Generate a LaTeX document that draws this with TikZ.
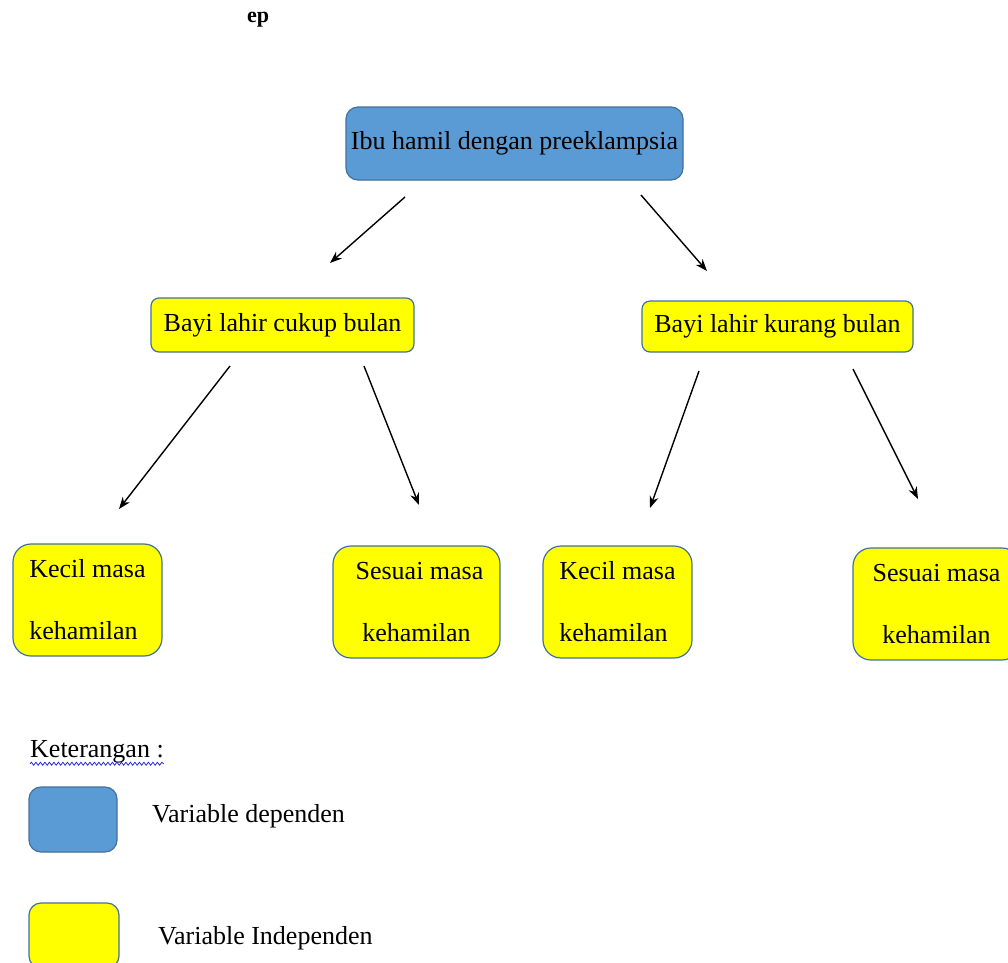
\documentclass[tikz,border=0pt]{standalone}
\usepackage{fontspec}
\setmainfont{Liberation Serif}
\usetikzlibrary{arrows.meta,decorations.pathmorphing}
\definecolor{bluefill}{RGB}{91,155,213}
\definecolor{boxedge}{RGB}{65,113,156}
\definecolor{yel}{RGB}{255,255,0}
\definecolor{spell}{RGB}{40,40,230}
\begin{document}
\begin{tikzpicture}[x=1pt,y=-1pt,
  font=\fontsize{26}{30}\selectfont,
  depbox/.style={draw=boxedge, fill=bluefill, line width=1.2pt, rounded corners=12pt, inner sep=0pt},
  indbox/.style={draw=boxedge, fill=yel, line width=1.2pt, rounded corners=8pt, inner sep=0pt},
  bigbox/.style={indbox, rounded corners=18pt, minimum height=112pt},
  lbl/.style={anchor=west, inner sep=0pt},
  arr/.style={-{Stealth[length=12pt,width=9pt]}, line width=1.4pt}]
\useasboundingbox (0,0) rectangle (1008,962);

\node[lbl, font=\bfseries\fontsize{22}{26}\selectfont] (ep) at (247,20) {ep};

\node[depbox, minimum width=337pt, minimum height=73pt] (top) at (514.5,143.5) {Ibu hamil dengan preeklampsia};

\node[indbox, minimum width=263pt, minimum height=54pt] (cukup) at (282.5,325) {Bayi lahir cukup bulan};
\node[indbox, minimum width=271pt, minimum height=51pt] (kurang) at (777.5,326.5) {Bayi lahir kurang bulan};

\node[bigbox, minimum width=149pt, align=left] (k1) at (87.5,600) {Kecil masa\\[32pt]kehamilan};
\node[bigbox, minimum width=167pt, align=center] (s1) at (416.5,602) {\hspace{6pt}Sesuai masa\\[32pt]kehamilan};
\node[bigbox, minimum width=149pt, align=left] (k2) at (617.5,602) {Kecil masa\\[32pt]kehamilan};
\node[bigbox, minimum width=167pt, align=center] (s2) at (936.5,604) {Sesuai masa\\[32pt]kehamilan};

\coordinate (a1s) at (405,197); \coordinate (a1e) at (330,263);
\coordinate (a2s) at (641,195); \coordinate (a2e) at (707,271);
\coordinate (a3s) at (230,366); \coordinate (a3e) at (119,509);
\coordinate (a4s) at (364,366); \coordinate (a4e) at (419,505);
\coordinate (a5s) at (699,371); \coordinate (a5e) at (650,508);
\coordinate (a6s) at (853,369); \coordinate (a6e) at (918,499);
\draw[arr] (a1s) -- (a1e);
\draw[arr] (a2s) -- (a2e);
\draw[arr] (a3s) -- (a3e);
\draw[arr] (a4s) -- (a4e);
\draw[arr] (a5s) -- (a5e);
\draw[arr] (a6s) -- (a6e);

\node[lbl] (ket) at (30,752) {Keterangan :};
\draw[spell, line width=0.8pt, decorate, decoration={snake, amplitude=1.5pt, segment length=4.5pt}]
  ([yshift=-6pt]ket.base west) -- ([yshift=-6pt]ket.base east);

\node[depbox, minimum width=88pt, minimum height=65pt] (legdep) at (73,819.5) {};
\node[indbox, rounded corners=12pt, minimum width=90pt, minimum height=65pt] (legind) at (74,935.5) {};
\node[lbl] (legdeptext) at (152,816) {Variable dependen};
\node[lbl] (legindtext) at (158,938) {Variable Independen};
\end{tikzpicture}
\end{document}
